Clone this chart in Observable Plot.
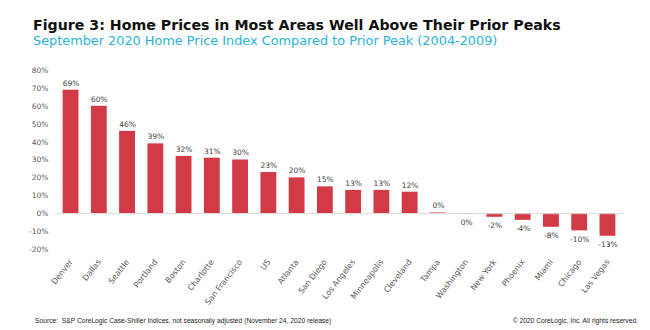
<!DOCTYPE html>
<html>
<head>
<meta charset="utf-8">
<script src="https://cdn.jsdelivr.net/npm/d3@7"></script>
<script src="https://cdn.jsdelivr.net/npm/@observablehq/plot@0.6"></script>
<style>
  body { margin: 0; background: #fff; }
  #wrap { position: relative; width: 650px; height: 330px; overflow: hidden; font-family: "DejaVu Sans", sans-serif; }
  #title, #subtitle, #source, #copy { position: absolute; white-space: nowrap; line-height: 1; }
  #title { left: 33px; top: 17.3px; font: bold 14.2px "DejaVu Sans", sans-serif; color: #111; }
  #subtitle { left: 33px; top: 33.4px; font: 12.85px "DejaVu Sans", sans-serif; color: #2AB2DA; }
  #chart { position: absolute; left: 0; top: 58px; }
  #source { left: 35px; top: 316.8px; font: 6.7px "Liberation Sans", Arial, sans-serif; color: #222; }
  #copy { right: 12px; top: 316.8px; font: 6.7px "Liberation Sans", Arial, sans-serif; color: #222; }
</style>
</head>
<body>
<div id="wrap">
  <div id="title">Figure 3: Home Prices in Most Areas Well Above Their Prior Peaks</div>
  <div id="subtitle">September 2020 Home Price Index Compared to Prior Peak (2004-2009)</div>
  <div id="chart"></div>
  <div id="source">Source:&nbsp; S&amp;P CoreLogic Case-Shiller Indices, not seasonally adjusted (November 24, 2020 release)</div>
  <div id="copy">© 2020 CoreLogic, Inc. All rights reserved.</div>
</div>
<script>
const cities = ["Denver","Dallas","Seattle","Portland","Boston","Charlotte","San Francisco","US","Atlanta","San Diego","Los Angeles","Minneapolis","Cleveland","Tampa","Washington","New York","Phoenix","Miami","Chicago","Las Vegas"];
const changes = [69, 60, 46, 39, 32, 31, 30, 23, 20, 15, 13, 13, 12, 0.4, -0.3, -2, -3.7, -7.6, -9.6, -12.6];
const yTicks = [-20, -10, 0, 10, 20, 30, 40, 50, 60, 70, 80];

const data = cities.map((c, i) => ({city: c, value: changes[i]}));
const fmt = v => Math.round(v) + "%";

const chart = Plot.plot({
  width: 650,
  height: 255,
  marginLeft: 55,
  marginRight: 27,
  marginTop: 12,
  marginBottom: 64,
  style: {fontFamily: "'DejaVu Sans', sans-serif", fontSize: "7.5px", color: "#595959", background: "transparent"},
  x: {domain: cities, paddingInner: 0.44, paddingOuter: 0.27, round: false, label: null},
  y: {domain: [-20, 80], label: null},
  marks: [
    Plot.barY(data, {x: "city", y: "value", fill: "#D23A45", insetLeft: 0, insetRight: 0}),
    Plot.ruleY([0], {stroke: "#d9d9d9", strokeWidth: 1}),
    Plot.text(data.filter(d => d.value >= 0), {x: "city", y: "value", text: d => fmt(d.value), dy: -7, fill: "#404040", fontSize: 7.5}),
    Plot.text(data.filter(d => d.value < 0), {x: "city", y: "value", text: d => fmt(d.value), dy: 8.5, fill: "#404040", fontSize: 7.5}),
    Plot.axisY({ticks: yTicks, tickFormat: d => d + "%", tickSize: 0, tickPadding: 7, fill: "#595959", fontSize: 7.5, label: null}),
    Plot.axisX({tickSize: 0, tickPadding: 11, tickRotate: -52, fill: "#595959", fontSize: 8, label: null})
  ]
});
document.getElementById("chart").appendChild(chart);
</script>
</body>
</html>
